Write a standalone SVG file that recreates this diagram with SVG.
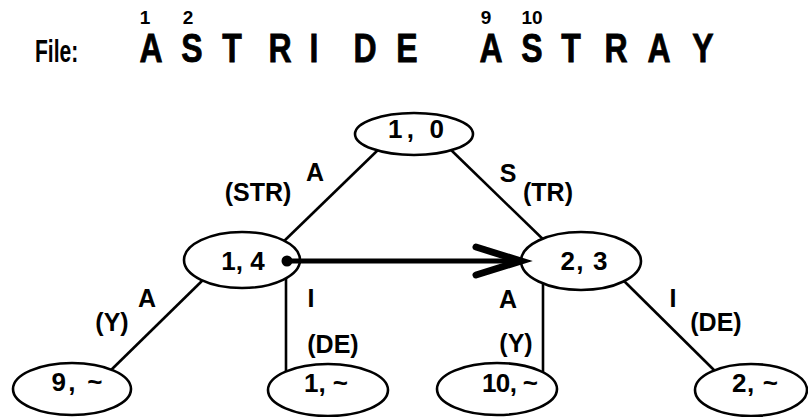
<svg xmlns="http://www.w3.org/2000/svg" width="808" height="417" viewBox="0 0 808 417">
  <style>
    text { font-family: "Liberation Sans", Arial, Helvetica, sans-serif; font-weight: bold; fill: #000; }
    .big { font-size: 40px; text-anchor: middle; stroke: #000; stroke-width: 0.8; }
    .idx { font-size: 19px; text-anchor: middle; }
    .lbl { font-size: 26px; text-anchor: middle; }
    .edge-lbl { font-size: 25px; text-anchor: middle; }
    .node ellipse { fill: #fff; stroke: #000; stroke-width: 2.6; }
    .edges line { stroke: #000; stroke-width: 2.6; }
  </style>

  <!-- header: file contents with character offsets -->
  <g id="file-line">
    <text transform="translate(35,62) scale(0.68,1)" style="font-size:31px">File:</text>
    <g class="word">
      <text class="big" transform="translate(151,62) scale(0.8,1)">A</text>
      <text class="big" transform="translate(192,62) scale(0.8,1)">S</text>
      <text class="big" transform="translate(232,62) scale(0.8,1)">T</text>
      <text class="big" transform="translate(280,62) scale(0.8,1)">R</text>
      <text class="big" transform="translate(314,62) scale(0.8,1)">I</text>
      <text class="big" transform="translate(365,62) scale(0.8,1)">D</text>
      <text class="big" transform="translate(407,62) scale(0.8,1)">E</text>
    </g>
    <g class="word">
      <text class="big" transform="translate(491,62) scale(0.8,1)">A</text>
      <text class="big" transform="translate(532,62) scale(0.8,1)">S</text>
      <text class="big" transform="translate(571,62) scale(0.8,1)">T</text>
      <text class="big" transform="translate(616,62) scale(0.8,1)">R</text>
      <text class="big" transform="translate(659,62) scale(0.8,1)">A</text>
      <text class="big" transform="translate(703,62) scale(0.8,1)">Y</text>
    </g>
    <text class="idx" x="145" y="24">1</text>
    <text class="idx" x="188" y="24">2</text>
    <text class="idx" x="486" y="24">9</text>
    <text class="idx" x="532" y="24">10</text>
  </g>

  <!-- tree edges, drawn beneath the nodes -->
  <g id="connectors" class="edges">
    <line x1="380" y1="148" x2="280" y2="245"/>
    <line x1="450" y1="149" x2="550" y2="246"/>
    <line x1="205" y1="278" x2="108" y2="373"/>
    <line x1="286" y1="275" x2="286" y2="375"/>
    <line x1="543" y1="275" x2="543" y2="375"/>
    <line x1="622" y1="279" x2="716" y2="372"/>
  </g>

  <g id="node-1-0" class="node">
    <ellipse cx="414" cy="134" rx="59" ry="21"/>
    <text class="lbl" x="416" y="138" textLength="56" lengthAdjust="spacing">1, 0</text>
  </g>
  <g id="node-1-4" class="node">
    <ellipse cx="242" cy="260" rx="58" ry="28"/>
    <text class="lbl" x="243" y="270">1, 4</text>
  </g>
  <g id="node-2-3" class="node">
    <ellipse cx="581" cy="261" rx="60" ry="29"/>
    <text class="lbl" x="584" y="270" textLength="47" lengthAdjust="spacing">2, 3</text>
  </g>
  <g id="node-9" class="node">
    <ellipse cx="72" cy="389" rx="59" ry="26"/>
    <text class="lbl" x="77" y="391" textLength="51" lengthAdjust="spacing">9, ~</text>
  </g>
  <g id="node-1" class="node">
    <ellipse cx="328" cy="390" rx="60" ry="26"/>
    <text class="lbl" x="326" y="392" textLength="44" lengthAdjust="spacing">1, ~</text>
  </g>
  <g id="node-10" class="node">
    <ellipse cx="497" cy="389" rx="60" ry="26"/>
    <text class="lbl" x="510" y="392" textLength="56" lengthAdjust="spacing">10, ~</text>
  </g>
  <g id="node-2" class="node">
    <ellipse cx="751" cy="390" rx="56" ry="26"/>
    <text class="lbl" x="755" y="392" textLength="46" lengthAdjust="spacing">2, ~</text>
  </g>

  <!-- link from node 1,4 to node 2,3, drawn over both nodes -->
  <g id="link" class="edges">
    <line x1="287" y1="261" x2="520" y2="261" style="stroke-width:5"/>
    <circle cx="287" cy="261" r="5.5" fill="#000"/>
    <polyline points="476,247 521,261 476,275" fill="none" stroke="#000" stroke-width="7" stroke-linecap="round" stroke-linejoin="miter"/>
  </g>

  <!-- edge labels: matched character and remaining string -->
  <g id="edge-labels">
    <text class="edge-lbl" x="315" y="181">A</text>
    <text class="edge-lbl" x="258" y="201">(STR)</text>
    <text class="edge-lbl" x="508" y="182">S</text>
    <text class="edge-lbl" x="548" y="201">(TR)</text>
    <text class="edge-lbl" x="147" y="307">A</text>
    <text class="edge-lbl" x="112" y="331">(Y)</text>
    <text class="edge-lbl" x="311" y="307">I</text>
    <text class="edge-lbl" x="333" y="353">(DE)</text>
    <text class="edge-lbl" x="508" y="308">A</text>
    <text class="edge-lbl" x="516" y="352">(Y)</text>
    <text class="edge-lbl" x="673" y="307">I</text>
    <text class="edge-lbl" x="716" y="331">(DE)</text>
  </g>
</svg>
